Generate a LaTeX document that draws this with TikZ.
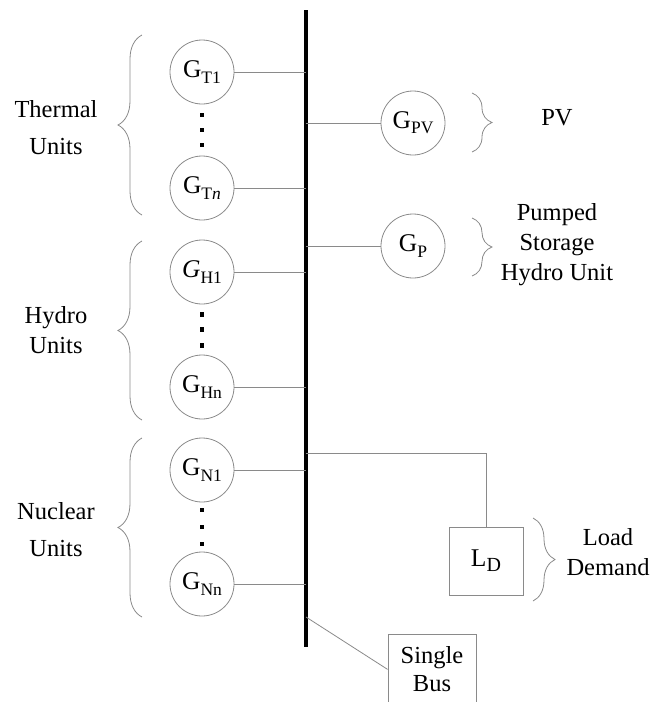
\documentclass[tikz,border=0pt]{standalone}
\usepackage{fontspec}
\setmainfont{Liberation Serif}
\usetikzlibrary{positioning, calc, decorations.pathreplacing}
\definecolor{lineGray}{HTML}{8A8A8A}
\newcommand{\gsub}[1]{\raisebox{-0.45ex}{\fontsize{17.5}{17.5}\selectfont #1}}

\begin{document}
\begin{tikzpicture}[x=1pt, y=-1pt,
    gen/.style={circle, draw=lineGray, line width=0.8pt, minimum size=64pt,
                inner sep=0pt, font=\fontsize{25.5}{25.5}\selectfont},
    wire/.style={draw=lineGray, line width=0.8pt},
    busline/.style={draw=black, line width=3.6pt},
    dot/.style={rectangle, fill=black, minimum size=4.5pt, inner sep=0pt},
    grpbrace/.style={draw=lineGray, line width=0.8pt, decorate,
                decoration={brace, amplitude=#1}},
    grpbrace/.default=24,
    lbl/.style={align=center, font=\fontsize{24.5}{30}\selectfont},
    lblwide/.style={align=center, font=\fontsize{24.5}{37}\selectfont},
    boxnode/.style={rectangle, draw=lineGray, line width=0.8pt, inner sep=0pt},
  ]
    \useasboundingbox (0,0) rectangle (662,702);

    % single bus
    \coordinate (busTop) at (306,10);
    \coordinate (busBot) at (306,647);
    \draw[busline] (busTop) -- (busBot);

    % generating units on the left
    \node[gen] (gT1) at (202,72) {G\gsub{T1}};
    \node[gen] (gTn) at (202,188) {G\gsub{T\textit{n}}};
    \node[gen] (gH1) at (202,272) {\textit{G}\gsub{H1}};
    \node[gen] (gHn) at (202,387) {G\gsub{Hn}};
    \node[gen] (gN1) at (202,470) {G\gsub{N1}};
    \node[gen] (gNn) at (202,584) {G\gsub{Nn}};

    \node[dot] (dT1) at ($(gT1)!0.37!(gTn)$) {};
    \node[dot] (dT2) at ($(gT1)!0.50!(gTn)$) {};
    \node[dot] (dT3) at ($(gT1)!0.63!(gTn)$) {};
    \node[dot] (dH1) at ($(gH1)!0.37!(gHn)$) {};
    \node[dot] (dH2) at ($(gH1)!0.50!(gHn)$) {};
    \node[dot] (dH3) at ($(gH1)!0.64!(gHn)$) {};
    \node[dot] (dN1) at ($(gN1)!0.35!(gNn)$) {};
    \node[dot] (dN2) at ($(gN1)!0.50!(gNn)$) {};
    \node[dot] (dN3) at ($(gN1)!0.65!(gNn)$) {};

    \draw[wire] (gT1.east) -- (gT1.east -| busTop);
    \draw[wire] (gTn.east) -- (gTn.east -| busTop);
    \draw[wire] (gH1.east) -- (gH1.east -| busTop);
    \draw[wire] (gHn.east) -- (gHn.east -| busTop);
    \draw[wire] (gN1.east) -- (gN1.east -| busTop);
    \draw[wire] (gNn.east) -- (gNn.east -| busTop);

    \draw[grpbrace] (142,215) -- (142,35);
    \draw[grpbrace] (142,420) -- (142,241);
    \draw[grpbrace] (142,617) -- (142,438);

    \node[lblwide] (thermal) at (56,128) {Thermal\\Units};
    \node[lbl] (hydro) at (56,330) {Hydro\\Units};
    \node[lblwide] (nuclear) at (56,530) {Nuclear\\Units};

    % units on the right
    \node[gen] (gPV) at (413,123) {G\gsub{PV}};
    \node[gen] (gP) at (413,246) {G\gsub{P}};
    \draw[wire] (gPV.west) -- (gPV.west -| busTop);
    \draw[wire] (gP.west) -- (gP.west -| busTop);

    \draw[grpbrace=20] (472,93) -- (472,152);
    \draw[grpbrace=20] (472,218) -- (472,276);
    \node[lbl] (pv) at (557,118) {PV};
    \node[lbl] (pumped) at (557,245) {Pumped\\Storage\\Hydro Unit};

    % load demand
    \node[boxnode, minimum width=74pt, minimum height=68pt,
          font=\fontsize{25.5}{25.5}\selectfont] (ld) at (486,561)
          {L\raisebox{-0.4ex}{\fontsize{20}{20}\selectfont D}};
    \coordinate (ldTap) at (306,453);
    \draw[wire] (ldTap) -| (ld.north);
    \draw[grpbrace=22] (533,518) -- (533,601);
    \node[lbl] (load) at (608,552) {Load\\Demand};

    % bus label
    \node[boxnode, minimum width=88pt, minimum height=70pt, anchor=north,
          font=\fontsize{24.5}{28}\selectfont, align=center] (sb) at (432,634)
          {Single\\Bus};
    \coordinate (sbTap) at (306,617);
    \draw[wire] (sbTap) -- (sb.west);
  \end{tikzpicture}
\end{document}
